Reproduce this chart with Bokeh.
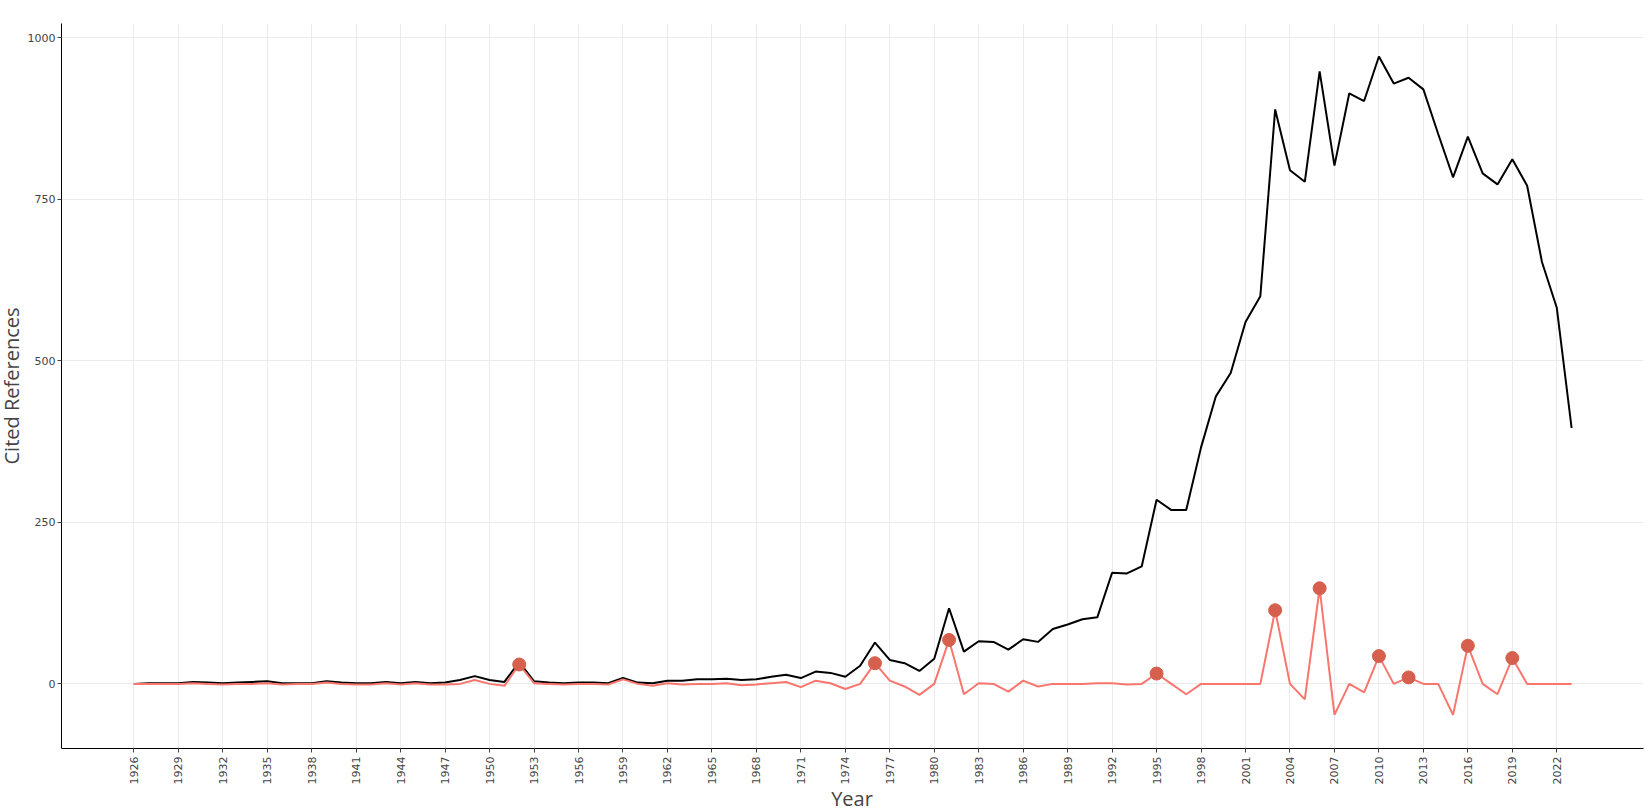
from bokeh.plotting import figure
from bokeh.models import Range1d, FixedTicker, ColumnDataSource, Div
from bokeh.layouts import row, column
from bokeh.embed import file_html
from bokeh.resources import INLINE
import math

years = list(range(1926, 2024))

cited_refs = [
    0, 1, 1, 1, 3, 2, 1, 2, 3, 4,          # 1926-1935
    1, 1, 1, 4, 2, 1, 1, 3, 1, 3,          # 1936-1945
    1, 2, 6, 12, 6, 3, 34, 4, 2, 1,        # 1946-1955
    2, 2, 1, 9, 2, 1, 5, 5, 7, 7,          # 1956-1965
    8, 6, 7, 11, 14, 9, 19, 17, 11, 28,    # 1966-1975
    64, 37, 32, 20, 39, 117, 50, 66, 65, 53,   # 1976-1985
    69, 65, 85, 92, 100, 103, 172, 171, 182, 285,  # 1986-1995
    269, 269, 366, 445, 481, 560, 600, 889, 795, 777,  # 1996-2005
    948, 802, 914, 902, 971, 929, 938, 920, 851, 784,  # 2006-2015
    847, 790, 773, 812, 771, 653, 582, 396,            # 2016-2023
]

diff_median = [
    0, 0, 0, 0, 1, 0, -1, 0, 0, 1,         # 1926-1935
    -1, 0, 0, 2, 0, -1, -1, 1, -1, 1,      # 1936-1945
    -1, -1, 0, 6, 0, -3, 30, 1, 0, -1,     # 1946-1955
    0, 0, -1, 7, 0, -3, 1, -1, 0, 0,       # 1956-1965
    1, -2, -1, 1, 3, -5, 5, 1, -8, 0,      # 1966-1975
    32, 5, -4, -17, 0, 68, -16, 1, 0, -12, # 1976-1985
    5, -4, 0, 0, 0, 1, 1, -1, 0, 16,       # 1986-1995
    0, -16, 0, 0, 0, 0, 0, 114, 0, -24,    # 1996-2005
    148, -48, 0, -13, 43, 0, 10, 0, 0, -48,  # 2006-2015
    59, 0, -16, 40, 0, 0, 0, 0,            # 2016-2023
]

peak_years = [1952, 1976, 1981, 1995, 2003, 2006, 2010, 2012, 2016, 2019]
peak_values = [30, 32, 68, 16, 114, 148, 43, 10, 59, 40]

tick_years = [1926, 1929, 1932, 1935, 1938, 1941, 1944, 1947, 1950, 1953,
              1956, 1959, 1962, 1965, 1968, 1971, 1974, 1977, 1980, 1983,
              1986, 1989, 1992, 1995, 1998, 2001, 2004, 2007, 2010, 2013,
              2016, 2019, 2022]
y_ticks = [0, 250, 500, 750, 1000]

x_title = "Year"
y_title = "Cited References"

src = ColumnDataSource(dict(year=years, cited=cited_refs, diff=diff_median))
peaks = ColumnDataSource(dict(year=peak_years, val=peak_values))

LEFT_W = 22
BOTTOM_H = 20
FIG_W = 1650 - LEFT_W
FIG_H = 810 - BOTTOM_H
FRAME_LEFT = 61      # page pixels
FRAME_BOTTOM = 748   # page pixels

p = figure(width=FIG_W, height=FIG_H, output_backend="svg", toolbar_location=None,
           x_range=Range1d(1921.12, 2027.85), y_range=Range1d(-100, 1022),
           min_border_left=FRAME_LEFT - LEFT_W, min_border_right=7,
           min_border_top=23, min_border_bottom=FIG_H - FRAME_BOTTOM,
           background_fill_color="white", border_fill_color="white")
p.outline_line_color = None

p.line("year", "cited", source=src, line_color="black", line_width=2)
p.line("year", "diff", source=src, line_color="#F8766D", line_width=2)
p.scatter("year", "val", source=peaks, size=13, fill_color="#D6604D",
          line_color="#D6604D")

for ax in (p.xaxis[0], p.yaxis[0]):
    ax.axis_line_color = "black"
    ax.axis_line_width = 1
    ax.major_tick_line_color = "#444444"
    ax.major_tick_out = 4
    ax.major_tick_in = 0
    ax.minor_tick_line_color = None
    ax.major_label_text_font = "DejaVu Sans"
    ax.major_label_text_font_size = "11px"
    ax.major_label_text_color = "#444444"

p.xaxis[0].ticker = FixedTicker(ticks=tick_years)
p.xaxis[0].major_label_orientation = math.pi / 2
p.xaxis[0].major_label_standoff = 4

p.yaxis[0].ticker = FixedTicker(ticks=y_ticks)
p.yaxis[0].major_label_standoff = 2

p.xgrid.grid_line_color = "#ebebeb"
p.ygrid.grid_line_color = "#ebebeb"
p.xgrid.grid_line_width = 1
p.ygrid.grid_line_width = 1

title_css = ("font-family:'Open Sans';font-size:20px;color:#444444;"
             "white-space:nowrap;line-height:20px;")

y_div = Div(
    text=(f'<div style="position:relative;width:{LEFT_W}px;height:{FIG_H}px;">'
          f'<div style="position:absolute;left:11.7px;top:385.5px;'
          f'transform:translate(-50%,-50%) rotate(-90deg);{title_css}">'
          f'{y_title}</div></div>'),
    width=LEFT_W, height=FIG_H, margin=0)

x_div = Div(
    text=(f'<div style="position:relative;width:1650px;height:{BOTTOM_H}px;">'
          f'<div style="position:absolute;left:852px;top:-1.3px;'
          f'transform:translateX(-50%);{title_css}">'
          f'{x_title}</div></div>'),
    width=1650, height=BOTTOM_H, margin=0)

layout = column(row(y_div, p, spacing=0), x_div, spacing=0)

open("out.html", "w").write(file_html(layout, INLINE))
